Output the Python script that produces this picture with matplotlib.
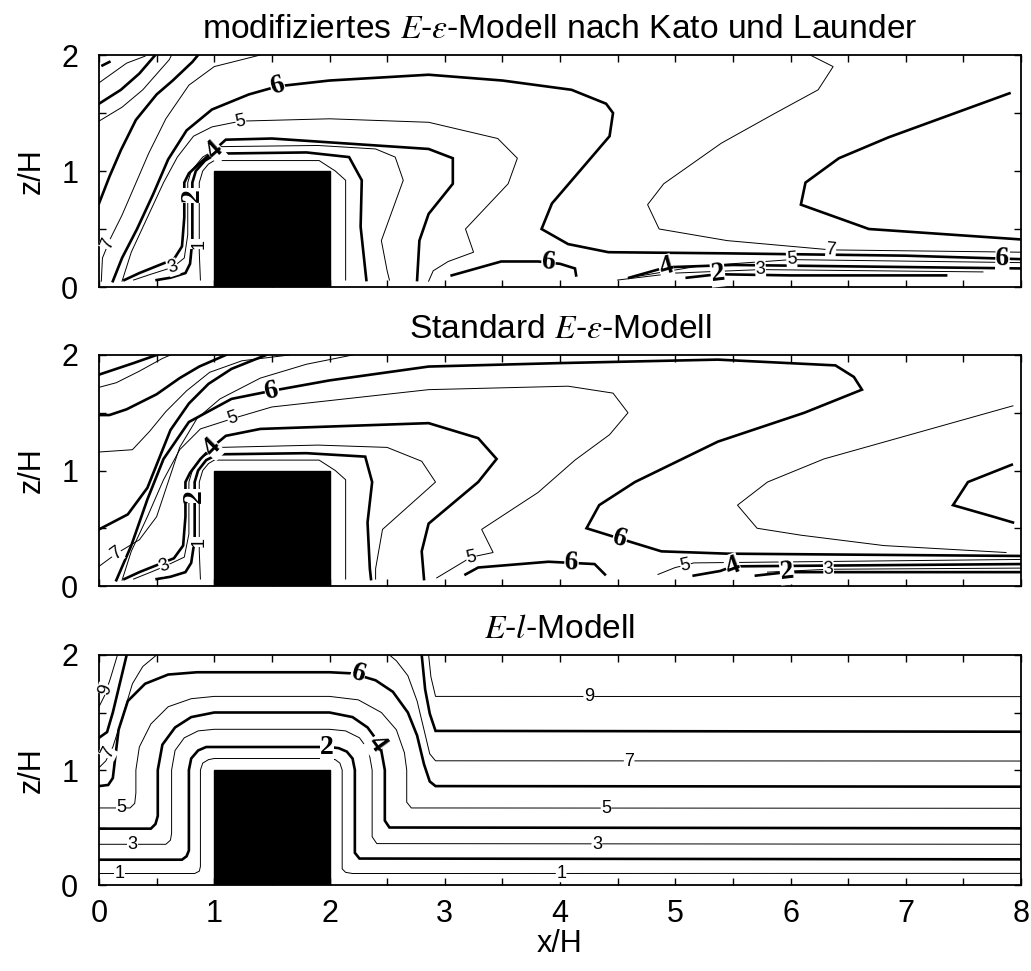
import numpy as np
import matplotlib
matplotlib.use("Agg")
import matplotlib.pyplot as plt
from matplotlib.patches import Rectangle
from matplotlib.ticker import MultipleLocator

plt.rcParams['font.family'] = ['Liberation Sans', 'DejaVu Sans']
plt.rcParams['mathtext.fontset'] = 'stix'

# ---------------------------------------------------------------------------
# Isolines (x/H, z/H) per model, grouped as (level, points)
# ---------------------------------------------------------------------------
kato_lines = [
    (1, [(0.88, 0.06), (0.87, 0.3), (0.87, 0.9), (0.9, 1.0), (0.95, 1.06), (1.0, 1.09),
         (1.8, 1.09), (1.91, 1.09), (2.05, 1.0), (2.14, 0.92), (2.14, 0.06)]),
    (2, [(0.5, 0.06), (0.62, 0.08), (0.75, 0.12), (0.79, 0.2), (0.81, 0.4), (0.81, 0.9),
         (0.84, 1.0), (0.92, 1.09), (1.02, 1.15), (1.8, 1.16), (2.17, 1.12), (2.28, 0.92),
         (2.27, 0.52), (2.31, 0.15), (2.32, 0.06)]),
    (3, [(0.3, 0.06), (0.45, 0.11), (0.64, 0.17), (0.74, 0.25), (0.77, 0.45), (0.77, 0.9),
         (0.8, 1.0), (0.9, 1.12), (1.05, 1.21), (1.9, 1.22), (2.4, 1.19), (2.57, 1.12),
         (2.64, 0.92), (2.45, 0.40), (2.5, 0.14), (2.52, 0.06)]),
    (4, [(0.22, 0.06), (0.35, 0.12), (0.5, 0.18), (0.65, 0.24), (0.72, 0.35), (0.74, 0.6),
         (0.74, 0.9), (0.78, 0.98), (0.9, 1.09), (1.0, 1.18), (1.1, 1.27), (1.5, 1.28),
         (2.86, 1.19), (3.07, 1.11), (3.07, 0.89), (2.86, 0.63), (2.78, 0.4),
         (2.76, 0.06)]),
    (5, [(0.2, 0.05), (0.28, 0.3), (0.42, 0.6), (0.56, 0.9), (0.68, 1.12), (0.82, 1.3),
         (0.98, 1.38), (1.23, 1.43), (2.0, 1.45), (2.86, 1.42), (3.46, 1.28), (3.63, 1.11),
         (3.55, 0.89), (3.18, 0.5), (3.25, 0.30), (3.03, 0.22), (2.9, 0.14), (2.86, 0.05)]),
    (6, [(0.12, 0.05), (0.2, 0.25), (0.33, 0.5), (0.47, 0.8), (0.6, 1.1), (0.76, 1.35),
         (0.98, 1.53), (1.3, 1.66), (1.55, 1.73), (2.0, 1.78), (2.86, 1.83), (3.5, 1.78),
         (4.1, 1.70), (4.4, 1.58), (4.46, 1.50), (4.43, 1.30), (3.93, 0.72), (3.84, 0.50),
         (4.07, 0.37), (4.42, 0.30), (5.45, 0.29), (7.0, 0.27), (8.0, 0.24)]),
    (6, [(3.06, 0.10), (3.49, 0.22), (3.81, 0.22), (4.0, 0.20), (4.13, 0.16), (4.14, 0.10)]),
    (7, [(6.17, 2.0), (6.37, 1.90), (6.24, 1.70), (5.87, 1.50), (5.4, 1.24), (4.9, 0.89),
         (4.76, 0.71), (4.86, 0.50), (5.45, 0.40), (6.35, 0.32), (8.0, 0.30)]),
    (7, [(0.02, 0.05), (0.03, 0.25), (0.1, 0.42), (0.2, 0.62), (0.3, 0.85), (0.43, 1.15),
         (0.58, 1.45), (0.78, 1.74), (1.0, 1.9), (1.4, 2.0)]),
    (8, [(7.90, 1.67), (6.85, 1.29), (6.42, 1.11), (6.13, 0.90), (6.09, 0.71), (6.68, 0.50),
         (8.0, 0.41)]),
    (8, [(0.0, 0.72), (0.09, 0.95), (0.19, 1.18), (0.32, 1.44), (0.5, 1.66), (0.64, 1.78),
         (0.81, 1.94), (0.86, 2.0)]),
    (9, [(0.0, 1.43), (0.2, 1.55), (0.38, 1.70), (0.61, 1.96), (0.63, 2.0)]),
    (10, [(0.0, 1.58), (0.19, 1.70), (0.35, 1.84), (0.48, 1.99)]),
    (11, [(0.0, 1.76), (0.24, 1.93), (0.4, 1.99)]),
    (12, [(0.03, 1.91), (0.09, 1.94)]),
    (5, [(4.6, 0.08), (5.2, 0.18), (6.01, 0.236), (8.0, 0.21)]),
    (4, [(4.6, 0.08), (4.92, 0.17), (5.5, 0.19), (8.0, 0.16)]),
    (3, [(4.5, 0.06), (5.0, 0.12), (5.74, 0.15), (7.67, 0.13)]),
    (2, [(5.1, 0.08), (5.37, 0.11), (6.0, 0.10), (7.35, 0.10)]),
]
kato_labels = [(6, 1.55, 1.73), (5, 1.23, 1.43), (4, 1.0, 1.18), (2, 0.81, 0.79),
               (3, 0.64, 0.17), (1, 0.87, 0.37), (7, 0.08, 0.37), (6, 3.9, 0.21),
               (4, 4.92, 0.17), (2, 5.37, 0.11), (3, 5.74, 0.15), (5, 6.01, 0.236),
               (7, 6.35, 0.32), (6, 7.84, 0.245)]

standard_lines = [
    (1, [(0.88, 0.06), (0.87, 0.3), (0.87, 0.9), (0.9, 1.0), (0.95, 1.06), (1.0, 1.09),
         (1.91, 1.09), (2.05, 1.0), (2.14, 0.92), (2.14, 0.06)]),
    (2, [(0.5, 0.06), (0.62, 0.08), (0.75, 0.12), (0.8, 0.2), (0.83, 0.4), (0.83, 0.9),
         (0.86, 1.0), (0.93, 1.09), (1.03, 1.14), (1.8, 1.15), (2.31, 1.12), (2.37, 0.9),
         (2.33, 0.55), (2.35, 0.15), (2.36, 0.06)]),
    (3, [(0.3, 0.06), (0.45, 0.12), (0.57, 0.17), (0.74, 0.25), (0.78, 0.45), (0.78, 0.9),
         (0.81, 1.0), (0.9, 1.12), (1.05, 1.2), (1.9, 1.22), (2.5, 1.2), (2.8, 1.08),
         (2.92, 0.9), (2.46, 0.49), (2.4, 0.15), (2.4, 0.06)]),
    (4, [(0.22, 0.06), (0.35, 0.12), (0.5, 0.18), (0.65, 0.24), (0.73, 0.35), (0.75, 0.6),
         (0.75, 0.9), (0.79, 0.98), (0.88, 1.1), (0.98, 1.2), (1.1, 1.3), (1.4, 1.36),
         (2.86, 1.41), (3.29, 1.28), (3.45, 1.10), (3.29, 0.90), (2.86, 0.54), (2.8, 0.3),
         (2.82, 0.06)]),
    (5, [(0.2, 0.05), (0.28, 0.3), (0.42, 0.6), (0.56, 0.92), (0.7, 1.18), (0.88, 1.36),
         (1.16, 1.45), (1.5, 1.55), (2.86, 1.70), (4.07, 1.73), (4.46, 1.67), (4.59, 1.50),
         (4.43, 1.31), (4.13, 1.09), (3.81, 0.81), (3.32, 0.49), (3.42, 0.29), (3.23, 0.25),
         (2.93, 0.07)]),
    (6, [(0.15, 0.05), (0.28, 0.35), (0.42, 0.75), (0.56, 1.1), (0.78, 1.42), (1.15, 1.62),
         (1.5, 1.69), (2.0, 1.78), (2.86, 1.90), (4.0, 1.93), (5.37, 1.96), (6.39, 1.91),
         (6.55, 1.81), (6.62, 1.70), (6.12, 1.50), (5.37, 1.25), (4.65, 0.90), (4.34, 0.70),
         (4.23, 0.50), (4.52, 0.41), (4.88, 0.30), (5.45, 0.28), (8.0, 0.26)]),
    (6, [(3.18, 0.10), (3.29, 0.16), (3.90, 0.21), (4.1, 0.20), (4.3, 0.19), (4.39, 0.10)]),
    (5, [(4.85, 0.10), (5.0, 0.16), (5.09, 0.18), (5.16, 0.20), (8.0, 0.23)]),
    (4, [(5.16, 0.09), (5.39, 0.13), (5.5, 0.17), (8.0, 0.19)]),
    (3, [(5.8, 0.12), (6.33, 0.145), (8.0, 0.155)]),
    (2, [(5.7, 0.09), (5.97, 0.12), (8.0, 0.12)]),
    (7, [(7.93, 1.56), (6.29, 1.10), (5.80, 0.90), (5.54, 0.70), (5.71, 0.50), (6.09, 0.44),
         (6.81, 0.35), (7.87, 0.29)]),
    (8, [(7.92, 1.05), (7.54, 0.90), (7.41, 0.70), (7.76, 0.60), (7.93, 0.55)]),
    (7, [(0.0, 0.17), (0.15, 0.28), (0.35, 0.4), (0.5, 0.6), (0.6, 0.9), (0.7, 1.2),
         (0.85, 1.45), (1.05, 1.62), (1.4, 1.8), (1.8, 1.92), (2.2, 2.0)]),
    (8, [(0.0, 0.49), (0.25, 0.62), (0.42, 0.85), (0.52, 1.1), (0.62, 1.35), (0.78, 1.58),
         (0.95, 1.75), (1.15, 1.88), (1.45, 2.0)]),
    (9, [(0.0, 1.16), (0.29, 1.18), (0.44, 1.34), (0.58, 1.51), (0.76, 1.69), (0.96, 1.85),
         (1.24, 1.95), (1.65, 2.0)]),
    (10, [(0.0, 1.48), (0.09, 1.48), (0.24, 1.53), (0.5, 1.66), (0.7, 1.8), (0.87, 1.9),
          (1.1, 2.0)]),
    (11, [(0.0, 1.72), (0.15, 1.76), (0.35, 1.86), (0.55, 1.97), (0.62, 2.0)]),
    (12, [(0.0, 1.83), (0.3, 1.93), (0.5, 2.0)]),
]
standard_labels = [(6, 1.5, 1.69), (5, 1.16, 1.45), (4, 0.98, 1.2), (2, 0.83, 0.78),
                   (1, 0.87, 0.38), (3, 0.57, 0.17), (7, 0.15, 0.28), (5, 3.23, 0.25),
                   (6, 4.1, 0.20), (6, 4.52, 0.41), (5, 5.09, 0.18), (4, 5.5, 0.17),
                   (2, 5.97, 0.12), (3, 6.33, 0.145)]

el_lines = [
    (1, [(0, 0.10), (0.83, 0.10), (0.87, 0.12), (0.88, 0.16), (0.88, 1.0), (0.9, 1.06),
         (0.95, 1.09), (1.0, 1.10), (2.0, 1.10), (2.05, 1.09), (2.09, 1.06), (2.11, 1.0),
         (2.11, 0.14), (2.14, 0.11), (2.2, 0.10), (8, 0.101)]),
    (2, [(0, 0.22), (0.72, 0.22), (0.76, 0.25), (0.78, 0.3), (0.78, 1.0), (0.80, 1.1),
         (0.86, 1.17), (0.93, 1.2), (1.0, 1.2), (2.0, 1.2), (2.08, 1.19), (2.15, 1.16),
         (2.2, 1.1), (2.22, 1.0), (2.22, 0.28), (2.26, 0.23), (8, 0.223)]),
    (3, [(0, 0.354), (0.58, 0.354), (0.62, 0.39), (0.63, 0.45), (0.63, 1.0), (0.66, 1.17),
         (0.74, 1.28), (0.86, 1.34), (1.0, 1.354), (2.0, 1.354), (2.14, 1.34), (2.26, 1.28),
         (2.34, 1.17), (2.37, 1.0), (2.37, 0.42), (2.41, 0.36), (8, 0.354)]),
    (4, [(0, 0.49), (0.45, 0.49), (0.49, 0.53), (0.51, 0.6), (0.51, 1.0), (0.55, 1.22),
         (0.66, 1.37), (0.8, 1.46), (1.0, 1.50), (2.0, 1.5), (2.2, 1.46), (2.33, 1.37),
         (2.44, 1.22), (2.48, 1.0), (2.48, 0.56), (2.52, 0.5), (8, 0.493)]),
    (5, [(0, 0.67), (0.27, 0.67), (0.31, 0.71), (0.32, 0.8), (0.32, 1.0), (0.35, 1.2),
         (0.45, 1.4), (0.6, 1.55), (0.8, 1.62), (1.0, 1.64), (2.0, 1.64), (2.25, 1.61),
         (2.45, 1.5), (2.58, 1.35), (2.65, 1.15), (2.67, 1.0), (2.67, 0.72), (2.71, 0.67),
         (8, 0.667)]),
    (6, [(0, 0.86), (0.08, 0.87), (0.12, 0.93), (0.14, 1.1), (0.17, 1.35), (0.25, 1.6),
         (0.4, 1.75), (0.6, 1.83), (0.85, 1.85), (2.0, 1.85), (2.2, 1.84), (2.4, 1.78),
         (2.55, 1.68), (2.68, 1.5), (2.76, 1.3), (2.82, 1.05), (2.87, 0.90), (2.92, 0.86),
         (8, 0.855)]),
    (7, [(0.0, 1.02), (0.06, 1.08), (0.12, 1.2), (0.2, 1.45), (0.29, 1.75), (0.38, 1.9),
         (0.5, 2.0)]),
    (7, [(2.52, 2.0), (2.58, 1.95), (2.68, 1.82), (2.76, 1.6), (2.82, 1.35), (2.87, 1.14),
         (2.92, 1.08), (8, 1.078)]),
    (8, [(0.0, 1.28), (0.07, 1.33), (0.12, 1.5), (0.18, 1.75), (0.24, 2.0)]),
    (8, [(2.80, 2.0), (2.83, 1.7), (2.87, 1.49), (2.92, 1.34), (8, 1.333)]),
    (9, [(0.0, 1.55), (0.05, 1.65), (0.1, 1.8), (0.16, 2.0)]),
    (9, [(2.86, 2.0), (2.88, 1.81), (2.92, 1.64), (8, 1.638)]),
]
el_labels = [(9, 0.06, 1.70), (7, 0.08, 1.15), (5, 0.19, 0.67), (3, 0.29, 0.354),
             (1, 0.18, 0.10), (6, 2.25, 1.84), (2, 1.98, 1.20), (4, 2.41, 1.23),
             (9, 4.25, 1.638), (7, 4.6, 1.078), (5, 4.4, 0.667), (3, 4.32, 0.354),
             (1, 4.01, 0.101)]

panels = [
    ("modifiziertes $E$-$\\varepsilon$-Modell nach Kato und Launder", kato_lines, kato_labels),
    ("Standard $E$-$\\varepsilon$-Modell", standard_lines, standard_labels),
    ("$E$-$l$-Modell", el_lines, el_labels),
]

# building block (x/H, z/H)
block_x = (1.0, 2.0)
block_z = (0.0, 1.0)

W, H = 1031, 971
fig = plt.figure(figsize=(W / 100, H / 100), dpi=100)
left_px, right_px = 99, 1021
rows_px = [(55, 287), (355, 586), (655, 885)]


def label_angle(ax, lines, level, x, z):
    """Angle of the nearest isoline segment in screen space."""
    best = None
    p = ax.transData.transform((x, z))
    for lev, pts in lines:
        if lev != level:
            continue
        d = ax.transData.transform(np.asarray(pts, float))
        for a, b in zip(d[:-1], d[1:]):
            ab = b - a
            t = np.clip(np.dot(p - a, ab) / max(np.dot(ab, ab), 1e-9), 0, 1)
            dist = np.linalg.norm(a + t * ab - p)
            if best is None or dist < best[0]:
                best = (dist, ab)
    ang = np.degrees(np.arctan2(best[1][1], best[1][0]))
    if ang > 90:
        ang -= 180
    if ang < -90:
        ang += 180
    return ang


for i, (title, lines, labels) in enumerate(panels):
    top, bot = rows_px[i]
    ax = fig.add_axes([left_px / W, (H - bot) / H, (right_px - left_px) / W, (bot - top) / H])
    ax.set_xlim(0, 8)
    ax.set_ylim(0, 2)
    for lev, pts in lines:
        arr = np.asarray(pts, float)
        thick = lev % 2 == 0
        ax.plot(arr[:, 0], arr[:, 1], color='black', lw=1.9 if thick else 0.7,
                solid_joinstyle='miter', zorder=2)
    for lev, x, z in labels:
        ang = label_angle(ax, lines, lev, x, z)
        if lev % 2 == 0:
            kw = dict(family=['Liberation Serif', 'DejaVu Serif'], weight='bold', fontsize=20)
        else:
            kw = dict(fontsize=13)
        ax.text(x, z, str(lev), rotation=ang, rotation_mode='anchor', ha='center',
                va='center', zorder=3,
                bbox=dict(facecolor='white', edgecolor='none', pad=0.2), **kw)
    ax.add_patch(Rectangle((block_x[0], block_z[0]), block_x[1] - block_x[0],
                           block_z[1] - block_z[0], facecolor='black', edgecolor='black',
                           zorder=4))
    ax.xaxis.set_major_locator(MultipleLocator(1))
    ax.xaxis.set_minor_locator(MultipleLocator(0.5))
    ax.yaxis.set_major_locator(MultipleLocator(1))
    ax.yaxis.set_minor_locator(MultipleLocator(0.5))
    ax.tick_params(which='both', direction='in', top=True, right=True, length=5,
                   width=1, labelsize=22)
    ax.tick_params(axis='y', pad=15)
    ax.tick_params(axis='x', pad=10)
    for s in ax.spines.values():
        s.set_linewidth(1.3)
    ax.set_ylabel("z/H", fontsize=22, labelpad=10)
    ax.set_title(title, fontsize=24.2, pad=12)
    if i < 2:
        ax.tick_params(labelbottom=False)
    else:
        ax.set_xlabel("x/H", fontsize=22, labelpad=0)

fig.savefig("out.png", dpi=100)
